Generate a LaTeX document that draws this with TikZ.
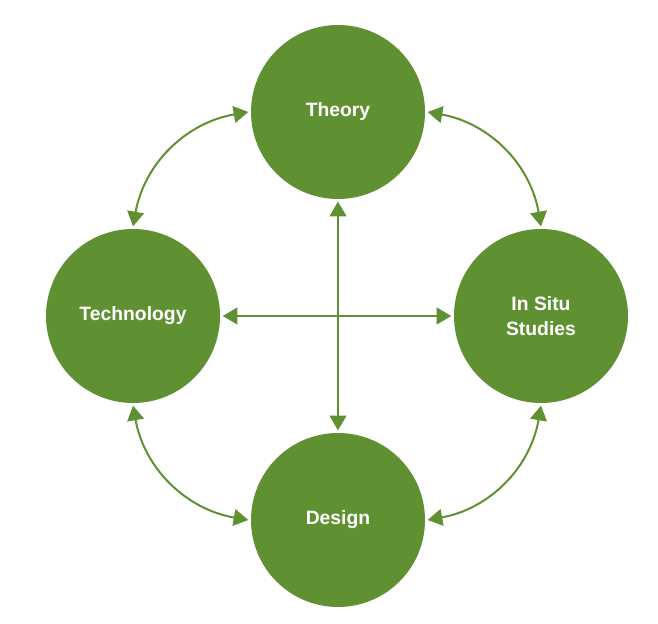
\documentclass[tikz,border=0pt]{standalone}
\usepackage{fontspec}
\setmainfont{Liberation Sans}
\usetikzlibrary{arrows.meta}
\definecolor{leaf}{RGB}{95,145,50}

\begin{document}
\begin{tikzpicture}[x=0.75pt, y=0.75pt,
    topic/.style={circle, fill=leaf, minimum size=130.5pt, inner sep=0pt, outer sep=2pt,
        text=white, align=center, font=\bfseries\fontsize{14.5}{18.5}\selectfont},
    link/.style={draw=leaf, line width=1.5pt, {Triangle[length=11pt, width=12.5pt]}-{Triangle[length=11pt, width=12.5pt]}}]
    \useasboundingbox (0,0) rectangle (658,624);

    % The four circles
    \node[topic] (theory) at (338,512) {Theory};
    \node[topic] (tech)   at (133,308) {Technology};
    \node[topic] (situ)   at (541,308) {In Situ\\Studies};
    \node[topic] (design) at (338,104) {Design};

    % Curved links round the ring
    \draw[link] (tech.north)  to[bend left=35] (theory.west);
    \draw[link] (theory.east) to[bend left=35] (situ.north);
    \draw[link] (situ.south)  to[bend left=35] (design.east);
    \draw[link] (design.west) to[bend left=35] (tech.south);

    % Straight links across the middle
    \draw[link] (tech.east) -- (situ.west);
    \draw[link] (theory.south) -- (design.north);
\end{tikzpicture}
\end{document}
